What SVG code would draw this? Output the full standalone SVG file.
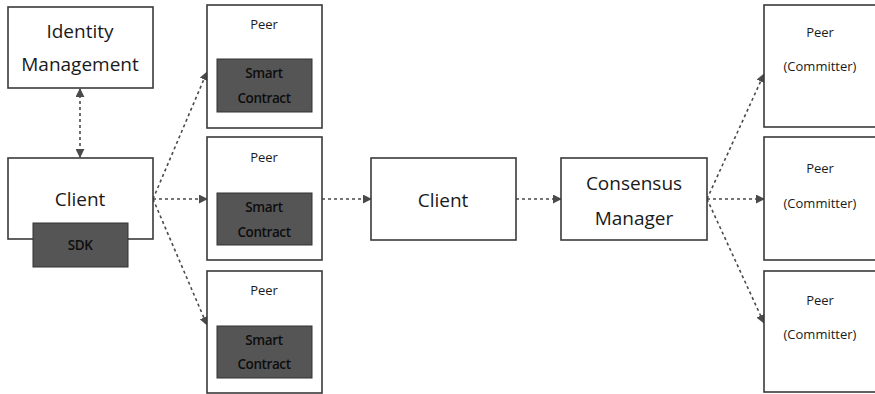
<svg xmlns="http://www.w3.org/2000/svg" width="875" height="394" viewBox="0 0 875 394">
<style>
.box{fill:#fff;stroke:#3a3a3a;stroke-width:1.6}
.dark{fill:#555;stroke:#333;stroke-width:1}
text{font-family:"Open Sans","Liberation Sans",sans-serif;text-anchor:middle;dominant-baseline:central;fill:#1a1a1a}
.big{font-size:19px}
.sm{font-size:13px}
.dk{font-size:13.5px;font-weight:600;fill:#0d0d0d;letter-spacing:-0.4px}
.con{stroke:#4a4a4a;stroke-width:1.6;stroke-dasharray:3 3;fill:none}
</style>
<defs>
<marker id="ah" viewBox="0 0 10 10" refX="9" refY="5" markerWidth="9" markerHeight="9" orient="auto-start-reverse" markerUnits="userSpaceOnUse">
<path d="M0,0 L10,5 L0,10 z" fill="#4a4a4a"/>
</marker>
</defs>
<rect width="875" height="394" fill="#fff"/>
<g id="connectors">
<line class="con" x1="80" y1="89" x2="80" y2="157" marker-start="url(#ah)" marker-end="url(#ah)"/>
<line class="con" x1="153" y1="199" x2="207" y2="72" marker-end="url(#ah)"/>
<line class="con" x1="153" y1="199" x2="207" y2="199" marker-end="url(#ah)"/>
<line class="con" x1="153" y1="199" x2="207" y2="325" marker-end="url(#ah)"/>
<line class="con" x1="322" y1="199" x2="371" y2="199" marker-end="url(#ah)"/>
<line class="con" x1="516" y1="199" x2="561" y2="199" marker-end="url(#ah)"/>
<line class="con" x1="707" y1="199" x2="764" y2="74" marker-end="url(#ah)"/>
<line class="con" x1="707" y1="199" x2="764" y2="199" marker-end="url(#ah)"/>
<line class="con" x1="707" y1="199" x2="764" y2="323" marker-end="url(#ah)"/>
</g>
<g id="identity">
<rect class="box" x="8" y="7" width="145" height="81"/>
<text class="big" x="80" y="31">Identity</text>
<text class="big" x="80" y="64">Management</text>
</g>
<g id="client1">
<rect class="box" x="8" y="158" width="145" height="81"/>
<text class="big" x="80" y="199">Client</text>
<rect class="dark" x="33" y="223" width="95" height="44"/>
<text class="dk" x="80" y="245">SDK</text>
</g>
<g id="peer1">
<rect class="box" x="207" y="5" width="115" height="123"/>
<text class="sm" x="264" y="24">Peer</text>
<rect class="dark" x="217" y="59" width="95" height="53"/>
<text class="dk" x="264" y="73">Smart</text>
<text class="dk" x="264" y="98">Contract</text>
</g>
<g id="peer2">
<rect class="box" x="207" y="137" width="115" height="123"/>
<text class="sm" x="264" y="157">Peer</text>
<rect class="dark" x="217" y="193" width="95" height="52"/>
<text class="dk" x="264" y="207">Smart</text>
<text class="dk" x="264" y="232">Contract</text>
</g>
<g id="peer3">
<rect class="box" x="207" y="271" width="115" height="122"/>
<text class="sm" x="264" y="290">Peer</text>
<rect class="dark" x="217" y="326" width="95" height="52"/>
<text class="dk" x="264" y="340">Smart</text>
<text class="dk" x="264" y="364">Contract</text>
</g>
<g id="client2">
<rect class="box" x="371" y="158" width="145" height="82"/>
<text class="big" x="443" y="200">Client</text>
</g>
<g id="consensus">
<rect class="box" x="561" y="158" width="146" height="82"/>
<text class="big" x="634" y="183">Consensus</text>
<text class="big" x="634" y="218">Manager</text>
</g>
<g id="committer1">
<rect class="box" x="764" y="5" width="120" height="122"/>
<text class="sm" x="820" y="32">Peer</text>
<text class="sm" x="820" y="66">(Committer)</text>
</g>
<g id="committer2">
<rect class="box" x="764" y="137" width="120" height="123"/>
<text class="sm" x="820" y="168">Peer</text>
<text class="sm" x="820" y="203">(Committer)</text>
</g>
<g id="committer3">
<rect class="box" x="764" y="271" width="120" height="121"/>
<text class="sm" x="820" y="300">Peer</text>
<text class="sm" x="820" y="334">(Committer)</text>
</g>
</svg>
